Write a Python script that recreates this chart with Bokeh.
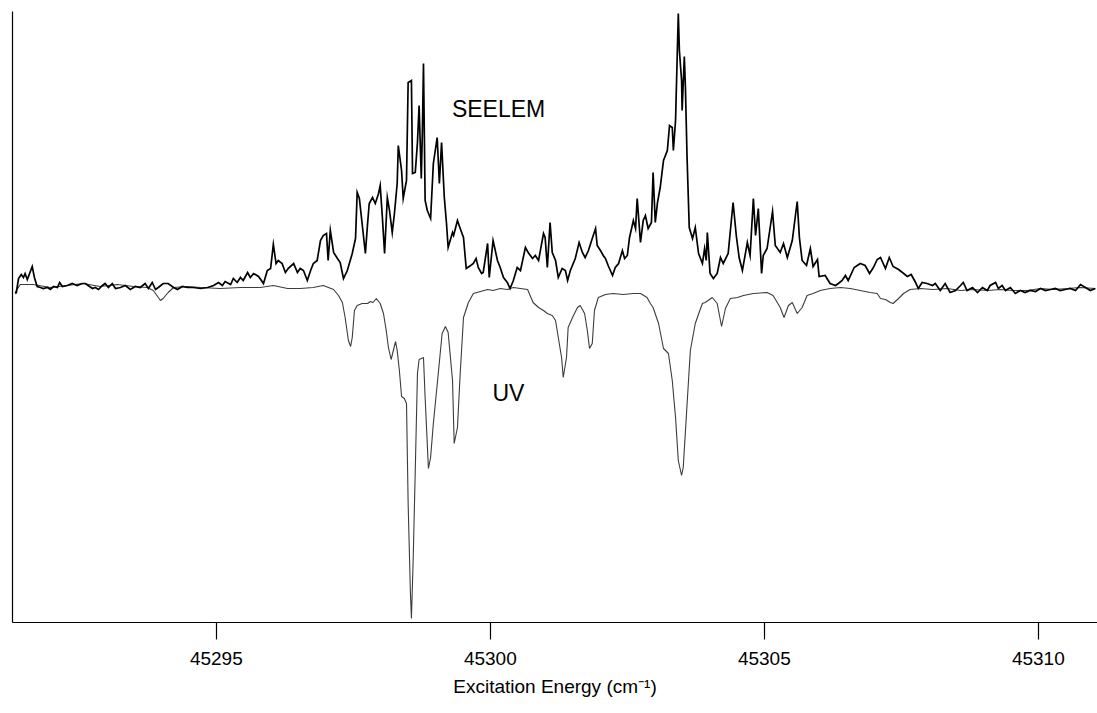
from bokeh.plotting import figure
from bokeh.models import Range1d, FixedTicker, ColumnDataSource
from bokeh.core.properties import value
from bokeh.embed import file_html
from bokeh.resources import INLINE

# SEELEM spectrum (positive trace): excitation energy in cm^-1, intensity in a.u.
seelem_x = [
    45291.33, 45291.35, 45291.39, 45291.44, 45291.48, 45291.51, 45291.55, 45291.64, 45291.68, 45291.73,
    45291.79, 45291.84, 45291.92, 45291.97, 45292.03, 45292.10, 45292.14, 45292.19, 45292.28, 45292.37,
    45292.46, 45292.55, 45292.61, 45292.66, 45292.74, 45292.79, 45292.85, 45292.92, 45292.97, 45293.03,
    45293.10, 45293.16, 45293.25, 45293.34, 45293.43, 45293.52, 45293.61, 45293.70, 45293.76, 45293.83,
    45293.89, 45293.94, 45294.03, 45294.12, 45294.22, 45294.29, 45294.38, 45294.47, 45294.58, 45294.71,
    45294.84, 45294.95, 45295.04, 45295.11, 45295.16, 45295.26, 45295.31, 45295.38, 45295.44, 45295.49,
    45295.57, 45295.62, 45295.68, 45295.77, 45295.86, 45295.93, 45295.99, 45296.04, 45296.09, 45296.13,
    45296.20, 45296.26, 45296.31, 45296.41, 45296.48, 45296.53, 45296.59, 45296.66, 45296.72, 45296.77,
    45296.84, 45296.90, 45296.95, 45297.01, 45297.04, 45297.08, 45297.14, 45297.21, 45297.26, 45297.32,
    45297.39, 45297.48, 45297.54, 45297.57, 45297.61, 45297.66, 45297.72, 45297.76, 45297.79, 45297.85,
    45297.90, 45297.96, 45297.99, 45298.03, 45298.07, 45298.12, 45298.16, 45298.21, 45298.25, 45298.30,
    45298.32, 45298.38, 45298.41, 45298.47, 45298.50, 45298.56, 45298.58, 45298.63, 45298.67, 45298.70,
    45298.74, 45298.76, 45298.78, 45298.81, 45298.85, 45298.91, 45298.96, 45299.03, 45299.07, 45299.11,
    45299.16, 45299.20, 45299.23, 45299.31, 45299.33, 45299.40, 45299.45, 45299.51, 45299.56, 45299.64,
    45299.69, 45299.74, 45299.78, 45299.84, 45299.87, 45299.95, 45299.98, 45300.05, 45300.13, 45300.18,
    45300.24, 45300.31, 45300.36, 45300.42, 45300.49, 45300.55, 45300.64, 45300.69, 45300.77, 45300.82,
    45300.88, 45300.97, 45301.00, 45301.04, 45301.09, 45301.13, 45301.19, 45301.24, 45301.31, 45301.37,
    45301.41, 45301.46, 45301.55, 45301.62, 45301.68, 45301.73, 45301.79, 45301.86, 45301.92, 45301.95,
    45302.01, 45302.06, 45302.10, 45302.15, 45302.23, 45302.28, 45302.34, 45302.41, 45302.45, 45302.50,
    45302.54, 45302.59, 45302.61, 45302.65, 45302.68, 45302.74, 45302.79, 45302.83, 45302.88, 45302.94,
    45302.97, 45303.01, 45303.05, 45303.10, 45303.16, 45303.23, 45303.27, 45303.32, 45303.34, 45303.38,
    45303.43, 45303.45, 45303.49, 45303.50, 45303.54, 45303.56, 45303.59, 45303.63, 45303.69, 45303.74,
    45303.80, 45303.87, 45303.91, 45303.94, 45303.96, 45304.01, 45304.07, 45304.14, 45304.20, 45304.25,
    45304.34, 45304.43, 45304.49, 45304.54, 45304.60, 45304.69, 45304.74, 45304.80, 45304.84, 45304.89,
    45304.95, 45304.98, 45305.05, 45305.15, 45305.20, 45305.29, 45305.35, 45305.42, 45305.51, 45305.60,
    45305.64, 45305.69, 45305.77, 45305.84, 45305.89, 45305.97, 45306.00, 45306.11, 45306.20, 45306.30,
    45306.35, 45306.42, 45306.48, 45306.53, 45306.64, 45306.75, 45306.84, 45306.92, 45306.99, 45307.06,
    45307.12, 45307.21, 45307.28, 45307.35, 45307.45, 45307.52, 45307.61, 45307.68, 45307.76, 45307.81,
    45307.88, 45307.97, 45308.07, 45308.12, 45308.21, 45308.30, 45308.39, 45308.49, 45308.58, 45308.63,
    45308.70, 45308.80, 45308.89, 45308.98, 45309.07, 45309.12, 45309.22, 45309.27, 45309.34, 45309.40,
    45309.49, 45309.58, 45309.67, 45309.76, 45309.85, 45309.95, 45310.04, 45310.13, 45310.22, 45310.31,
    45310.40, 45310.49, 45310.58, 45310.68, 45310.77, 45310.86, 45310.95, 45311.04,
]
seelem_y = [
    -6, -5, 9, 13, 10, 14, 8, 21, 10, 1,
    0, -1, 0, -2, 1, 0, 5, 1, 2, 4,
    2, 4, 4, 2, -1, 0, -2, 2, 4, 0,
    4, -1, 0, 2, -2, 1, 0, 4, -1, 5,
    -2, 0, 4, 4, 0, -2, 1, 0, 0, -1,
    0, 2, 5, 2, 6, 3, 9, 5, 10, 7,
    15, 10, 14, 11, 4, 17, 19, 43, 24, 27,
    24, 15, 19, 24, 15, 19, 17, 7, 17, 24,
    27, 47, 52, 54, 27, 57, 35, 29, 25, 9,
    17, 34, 49, 95, 89, 64, 34, 64, 84, 90,
    84, 94, 102, 70, 34, 90, 77, 55, 74, 104,
    142, 117, 89, 107, 205, 207, 114, 115, 145, 182,
    109, 157, 224, 87, 77, 69, 124, 150, 104, 145,
    90, 64, 40, 55, 52, 67, 59, 50, 19, 22,
    24, 29, 20, 14, 15, 44, 10, 47, 27, 20,
    10, 5, -1, 7, 20, 17, 40, 35, 29, 32,
    27, 54, 50, 20, 65, 35, 27, 10, 19, 17,
    7, 17, 29, 45, 35, 30, 37, 49, 59, 42,
    37, 32, 29, 22, 12, 20, 24, 37, 29, 32,
    50, 62, 67, 59, 89, 45, 67, 72, 59, 65,
    115, 65, 85, 100, 127, 137, 162, 160, 137, 167,
    274, 237, 207, 177, 231, 200, 130, 60, 49, 60,
    34, 24, 39, 27, 55, 14, 9, 14, 30, 24,
    34, 85, 51, 30, 17, 45, 32, 89, 52, 79,
    14, 32, 39, 76, 42, 35, 44, 30, 47, 86,
    50, 27, 22, 39, 21, 28, 11, 12, 4, 2,
    4, 7, 12, 7, 20, 24, 22, 14, 20, 28,
    30, 19, 30, 21, 18, 15, 11, 13, 5, -1,
    5, 4, 2, 4, -3, 4, -5, -3, 2, 5,
    -3, 0, -5, 0, -3, 2, 5, -1, 2, -3,
    0, -6, -3, -5, -3, -4, -1, -3, -2, -1,
    -3, -2, -1, -3, 3, 0, -3, -1,
]

# UV absorption spectrum (plotted downward)
uv_x = [
    45291.33, 45291.42, 45291.66, 45291.97, 45292.28, 45292.57, 45292.88, 45293.19, 45293.49, 45293.74,
    45293.85, 45293.98, 45294.03, 45294.12, 45294.22, 45294.47, 45294.71, 45295.07, 45295.44, 45295.80,
    45296.04, 45296.30, 45296.53, 45296.77, 45296.95, 45297.14, 45297.23, 45297.30, 45297.35, 45297.41,
    45297.45, 45297.48, 45297.52, 45297.57, 45297.66, 45297.76, 45297.81, 45297.86, 45297.92, 45297.99,
    45298.05, 45298.10, 45298.14, 45298.19, 45298.23, 45298.27, 45298.30, 45298.34, 45298.38, 45298.43,
    45298.47, 45298.50, 45298.54, 45298.56, 45298.59, 45298.63, 45298.67, 45298.70, 45298.78, 45298.81,
    45298.87, 45298.91, 45298.96, 45299.05, 45299.12, 45299.18, 45299.23, 45299.31, 45299.34, 45299.40,
    45299.45, 45299.51, 45299.60, 45299.69, 45299.82, 45299.95, 45300.05, 45300.18, 45300.31, 45300.42,
    45300.55, 45300.68, 45300.78, 45300.88, 45300.97, 45301.04, 45301.13, 45301.19, 45301.24, 45301.30,
    45301.33, 45301.39, 45301.42, 45301.50, 45301.59, 45301.64, 45301.72, 45301.77, 45301.81, 45301.86,
    45301.90, 45301.97, 45302.10, 45302.24, 45302.43, 45302.61, 45302.74, 45302.86, 45302.92, 45302.97,
    45303.07, 45303.16, 45303.25, 45303.32, 45303.38, 45303.43, 45303.49, 45303.52, 45303.58, 45303.65,
    45303.74, 45303.81, 45303.87, 45303.92, 45304.05, 45304.14, 45304.22, 45304.29, 45304.38, 45304.51,
    45304.62, 45304.80, 45305.05, 45305.16, 45305.29, 45305.36, 45305.44, 45305.51, 45305.60, 45305.69,
    45305.78, 45305.89, 45306.02, 45306.20, 45306.39, 45306.57, 45306.75, 45306.93, 45307.06, 45307.12,
    45307.21, 45307.30, 45307.35, 45307.45, 45307.54, 45307.66, 45307.85, 45308.08, 45308.34, 45308.58,
    45308.81, 45309.07, 45309.31, 45309.54, 45309.80, 45310.04, 45310.27, 45310.53, 45310.77, 45311.04,
]
uv_y = [
    -5, 3, 3, 0, 2, 4, 1, 3, 1, 0,
    -3, -13, -11, -5, 0, 1, 0, -1, 0, 0,
    2, -1, -1, 0, 2, -2, -8, -15, -30, -53,
    -59, -50, -23, -18, -16, -16, -14, -15, -11, -16,
    -26, -43, -60, -72, -63, -54, -63, -83, -109, -111,
    -116, -216, -303, -331, -276, -183, -86, -72, -70, -110,
    -181, -170, -136, -86, -46, -39, -45, -93, -156, -140,
    -86, -30, -15, -6, -4, -2, -3, -1, -2, 0,
    -1, -2, -15, -20, -23, -26, -28, -33, -50, -70,
    -90, -70, -40, -30, -20, -18, -26, -43, -61, -56,
    -23, -10, -7, -6, -7, -6, -6, -10, -16, -20,
    -36, -61, -66, -93, -130, -173, -188, -180, -126, -63,
    -36, -25, -16, -15, -10, -16, -39, -21, -11, -10,
    -8, -6, -5, -8, -20, -30, -18, -15, -26, -20,
    -8, -6, -3, -1, 0, -1, -3, -5, -6, -11,
    -12, -15, -16, -11, -6, -2, -1, -2, -1, -3,
    -2, -3, -2, -3, -3, -1, -2, -1, 0, -1,
]

x_ticks = [45295, 45300, 45305, 45310]
x_title = "Excitation Energy (cm\u207b\u00b9)"

# trace labels and where they sit
trace_labels = ["SEELEM", "UV"]
label_x = [45300.15, 45300.33]
label_y = [179, -105]

FONT = "Liberation Sans"

p = figure(
    width=1097, height=713,
    output_backend="svg", toolbar_location=None,
    x_range=Range1d(45291.28, 45311.08),
    y_range=Range1d(-335, 276),
    min_border_left=12, min_border_right=0,
    min_border_top=11, min_border_bottom=91,
)
p.background_fill_color = "white"
p.border_fill_color = "white"
p.outline_line_color = None
p.grid.visible = False

# bottom axis
xa = p.xaxis[0]
xa.ticker = FixedTicker(ticks=x_ticks)
xa.major_tick_out = 17
xa.major_tick_in = 0
xa.minor_tick_line_color = None
xa.axis_line_color = "black"
xa.axis_line_width = 1.2
xa.major_tick_line_color = "black"
xa.major_tick_line_width = 1.2
xa.major_label_text_font = FONT
xa.major_label_text_font_size = "19px"
xa.major_label_text_color = "black"
xa.major_label_standoff = 12
xa.axis_label = x_title
xa.axis_label_text_font = FONT
xa.axis_label_text_font_size = "19px"
xa.axis_label_text_font_style = "normal"
xa.axis_label_text_color = "black"
xa.axis_label_standoff = 8

# left axis: bare line only
ya = p.yaxis[0]
ya.ticker = FixedTicker(ticks=[])
ya.major_tick_line_color = None
ya.minor_tick_line_color = None
ya.major_label_text_font_size = "0px"
ya.axis_line_color = "black"
ya.axis_line_width = 1.2

src_uv = ColumnDataSource(dict(x=uv_x, y=uv_y))
src_se = ColumnDataSource(dict(x=seelem_x, y=seelem_y))

p.line("x", "y", source=src_uv, line_color="#3c3c3c", line_width=1.1)
p.line("x", "y", source=src_se, line_color="black", line_width=1.7, line_join="miter")

p.text(x=label_x, y=label_y, text=trace_labels,
       text_font=value(FONT), text_font_size="23px", text_color="black",
       text_align="center", text_baseline="middle")

open("out.html", "w").write(file_html(p, INLINE))
